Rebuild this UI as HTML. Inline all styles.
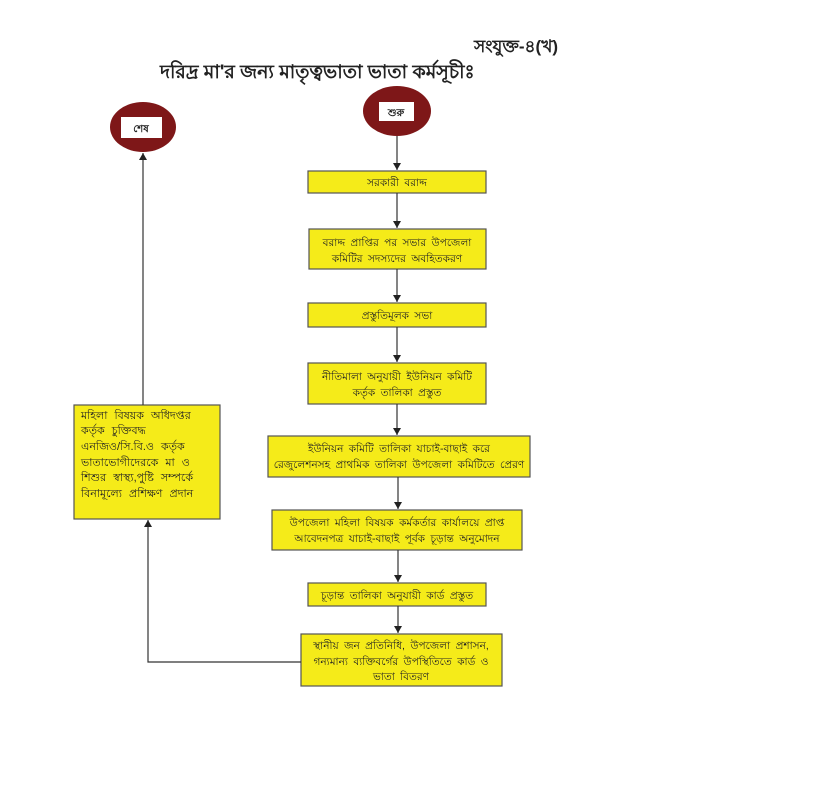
<!DOCTYPE html>
<html><head><meta charset="utf-8"><style>
body{margin:0;background:#fff;width:819px;height:792px;overflow:hidden}
svg{display:block}
text{font-family:"Liberation Sans","Noto Sans CJK SC",sans-serif;fill:#222}
.b{fill:#f5eb19;stroke:#555;stroke-width:1.2}
.l{stroke:#333;stroke-width:1.2;fill:none}
.s{font-size:10.5px;word-spacing:2.5px}
.t{font-size:11px;word-spacing:4px}
</style></head><body>
<svg width="819" height="792" viewBox="0 0 819 792">
<defs><marker id="a" markerWidth="8" markerHeight="8" refX="7" refY="4" orient="auto" markerUnits="userSpaceOnUse"><path d="M0,0 L7,4 L0,8 z" fill="#222"/></marker></defs>
<text x="474" y="52" font-size="17" font-weight="bold">সংযুক্ত-৪(খ)</text>
<text x="160" y="78" font-size="19" font-weight="bold">দরিদ্র মা'র জন্য মাতৃত্বভাতা ভাতা কর্মসূচীঃ</text>
<ellipse cx="143" cy="127" rx="33" ry="25" fill="#7e1718"/>
<rect x="121" y="117" width="41" height="21" fill="#fff"/>
<text x="141" y="132" font-size="10" text-anchor="middle" font-weight="bold">শেষ</text>
<ellipse cx="397" cy="111" rx="34" ry="25" fill="#7e1718"/>
<rect x="379" y="102" width="35" height="19" fill="#fff"/>
<text x="396" y="116" font-size="10" text-anchor="middle" font-weight="bold">শুরু</text>
<line class="l" x1="397" y1="136" x2="397" y2="170" marker-end="url(#a)"/>
<rect class="b" x="308" y="171" width="178" height="22"/>
<text class="s" x="397" y="186" text-anchor="middle">সরকারী বরাদ্দ</text>
<line class="l" x1="397" y1="193" x2="397" y2="228" marker-end="url(#a)"/>
<rect class="b" x="309" y="229" width="177" height="40"/>
<text class="s" x="397" y="246" text-anchor="middle">বরাদ্দ প্রাপ্তির পর সভার উপজেলা</text>
<text class="s" x="397" y="262" text-anchor="middle">কমিটির সদস্যদের অবহিতকরণ</text>
<line class="l" x1="397" y1="269" x2="397" y2="302" marker-end="url(#a)"/>
<rect class="b" x="308" y="303" width="178" height="24"/>
<text class="s" x="397" y="319" text-anchor="middle">প্রস্তুতিমূলক সভা</text>
<line class="l" x1="397" y1="327" x2="397" y2="362" marker-end="url(#a)"/>
<rect class="b" x="308" y="363" width="178" height="41"/>
<text class="s" x="397" y="380" text-anchor="middle">নীতিমালা অনুযায়ী ইউনিয়ন কমিটি</text>
<text class="s" x="397" y="396" text-anchor="middle">কর্তৃক তালিকা প্রস্তুত</text>
<line class="l" x1="397" y1="404" x2="397" y2="435" marker-end="url(#a)"/>
<rect class="b" x="268" y="436" width="262" height="41"/>
<text class="s" x="399" y="452" text-anchor="middle">ইউনিয়ন কমিটি তালিকা যাচাই-বাছাই করে</text>
<text class="s" x="399" y="468" text-anchor="middle">রেজুলেশনসহ প্রাথমিক তালিকা উপজেলা কমিটিতে প্রেরণ</text>
<line class="l" x1="398" y1="477" x2="398" y2="509" marker-end="url(#a)"/>
<rect class="b" x="272" y="510" width="250" height="40"/>
<text class="s" x="397" y="526" text-anchor="middle">উপজেলা মহিলা বিষয়ক কর্মকর্তার কার্যালয়ে প্রাপ্ত</text>
<text class="s" x="397" y="542" text-anchor="middle">আবেদনপত্র যাচাই-বাছাই পূর্বক চূড়ান্ত অনুমোদন</text>
<line class="l" x1="398" y1="550" x2="398" y2="582" marker-end="url(#a)"/>
<rect class="b" x="308" y="583" width="178" height="23"/>
<text class="s" x="397" y="599" text-anchor="middle">চূড়ান্ত তালিকা অনুযায়ী কার্ড প্রস্তুত</text>
<line class="l" x1="398" y1="606" x2="398" y2="633" marker-end="url(#a)"/>
<rect class="b" x="301" y="634" width="201" height="52"/>
<text class="s" x="401" y="649" text-anchor="middle">স্থানীয় জন প্রতিনিধি, উপজেলা প্রশাসন,</text>
<text class="s" x="401" y="665" text-anchor="middle">গন্যমান্য ব্যক্তিবর্গের উপস্থিতিতে কার্ড ও</text>
<text class="s" x="401" y="680" text-anchor="middle">ভাতা বিতরণ</text>
<polyline class="l" points="301,662 148,662 148,520" marker-end="url(#a)"/>
<rect class="b" x="74" y="405" width="146" height="114"/>
<text class="t" x="81" y="419">মহিলা বিষয়ক অধিদপ্তর</text>
<text class="t" x="81" y="434">কর্তৃক চুক্তিবদ্ধ</text>
<text class="t" x="81" y="450">এনজিও/সি.বি.ও কর্তৃক</text>
<text class="t" x="81" y="466">ভাতাভোগীদেরকে মা ও</text>
<text class="t" x="81" y="481">শিশুর স্বাস্থ্য,পুষ্টি সম্পর্কে</text>
<text class="t" x="81" y="497">বিনামূল্যে প্রশিক্ষণ প্রদান</text>
<line class="l" x1="143" y1="405" x2="143" y2="153" marker-end="url(#a)"/>
</svg>
</body></html>
